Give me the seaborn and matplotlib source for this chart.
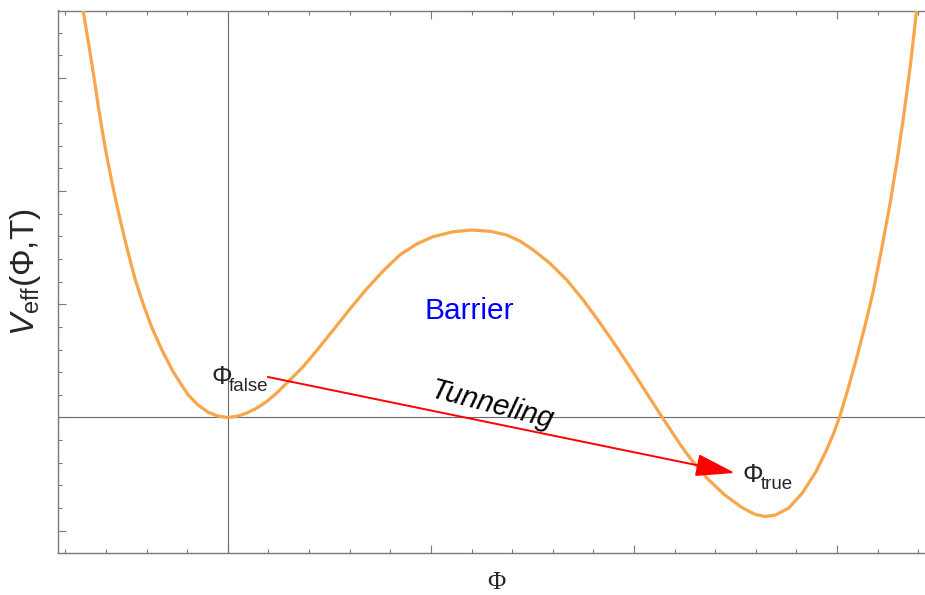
import matplotlib
matplotlib.use("Agg")
import matplotlib.pyplot as plt
from matplotlib.ticker import MultipleLocator, NullFormatter
import seaborn as sns

# Effective potential V_eff(Φ, T) sampled along Φ
phi = [-0.74, -0.7128, -0.6847, -0.6586, -0.634, -0.6059, -0.5847, -0.5616,
       -0.5369, -0.5108, -0.4828, -0.4532, -0.4172, -0.3759, -0.3266, -0.2695,
       -0.233, -0.1956, -0.1463, -0.097, -0.0478, 0.0, 0.0429, 0.0921, 0.1414,
       0.1906, 0.2399, 0.2892, 0.3709, 0.437, 0.519, 0.601, 0.683, 0.765,
       0.847, 0.930, 1.011, 1.110, 1.200, 1.291, 1.373, 1.438, 1.504, 1.586,
       1.669, 1.750, 1.833, 1.915, 1.997, 2.071, 2.136, 2.230, 2.279, 2.363,
       2.446, 2.529, 2.595, 2.646, 2.696, 2.762, 2.829, 2.896, 2.945, 2.98,
       3.012, 3.054, 3.096, 3.138, 3.179, 3.221, 3.262, 3.296, 3.329, 3.362,
       3.392, 3.42]
veff = [3.89, 3.594, 3.290, 2.996, 2.701, 2.401, 2.201, 1.998,
        1.798, 1.597, 1.398, 1.200, 1.003, 0.802, 0.602, 0.405,
        0.302, 0.199, 0.110, 0.046, 0.012, 0.0, 0.010, 0.038, 0.082,
        0.140, 0.215, 0.302, 0.449, 0.590, 0.773, 0.958, 1.135, 1.295,
        1.436, 1.533, 1.597, 1.641, 1.656, 1.645, 1.612, 1.559, 1.480, 1.362,
        1.215, 1.038, 0.835, 0.622, 0.399, 0.192, 0.010, -0.244, -0.364, -0.542,
        -0.683, -0.792, -0.855, -0.875, -0.862, -0.800, -0.668, -0.480, -0.300, -0.155,
        0.0, 0.25, 0.522, 0.81, 1.120, 1.50, 1.897, 2.27, 2.672, 3.12,
        3.593, 4.0]

# Tunneling path: false vacuum -> true vacuum
tunnel_start = [0.197, 0.358]
tunnel_end = [2.497, -0.490]

sns.set_style("ticks")
plt.rcParams["font.family"] = ["Liberation Sans", "DejaVu Sans"]
plt.rcParams["mathtext.fontset"] = "custom"
plt.rcParams["mathtext.rm"] = "Liberation Sans"
plt.rcParams["mathtext.it"] = "Liberation Sans:italic"
plt.rcParams["mathtext.bf"] = "Liberation Sans:bold"

fig = plt.figure(figsize=(9.25, 5.95), dpi=100)
ax = fig.add_axes([57.5 / 925, 42.5 / 595, 872.5 / 925, 542 / 595])

frame_col = "#7a7a7a"
axis_col = "#6a6a6a"

ax.axhline(0, color=axis_col, lw=0.8, zorder=1)
ax.axvline(0, color=axis_col, lw=0.8, zorder=1)

sns.lineplot(x=phi, y=veff, ax=ax, color="#F9A54B", linewidth=2.3,
             sort=False, estimator=None, zorder=3)
ax.lines[-1].set_solid_joinstyle("round")

ax.set_xlim(-0.839, 3.458)
ax.set_ylim(-1.1926, 3.595)

ax.xaxis.set_major_locator(MultipleLocator(1))
ax.xaxis.set_minor_locator(MultipleLocator(0.2))
ax.yaxis.set_major_locator(MultipleLocator(1))
ax.yaxis.set_minor_locator(MultipleLocator(0.2))
for a in (ax.xaxis, ax.yaxis):
    a.set_major_formatter(NullFormatter())
    a.set_minor_formatter(NullFormatter())

ax.tick_params(which="both", direction="in", top=True, right=False,
               color=frame_col, width=0.8)
ax.tick_params(which="major", length=5.8)
ax.tick_params(which="minor", length=3.2)
for s in ax.spines.values():
    s.set_color(frame_col)
    s.set_linewidth(1.0)

# Axis labels
ax.set_xlabel("Φ", fontsize=18, family=["Liberation Serif", "DejaVu Serif"],
              va="baseline", ha="center")
ax.xaxis.set_label_coords(0.503, -0.0675)
ax.set_ylabel(r"$V_{\mathrm{eff}}$(Φ,T)", fontsize=24, va="center", ha="center")
ax.yaxis.set_label_coords(-0.037, 0.5165)

# Annotations
ax.annotate("", xy=tunnel_end, xytext=tunnel_start,
            arrowprops=dict(arrowstyle="-|>,head_length=2.45,head_width=0.7",
                            color="red", lw=1.4, shrinkA=0, shrinkB=0),
            zorder=5)

ax.text(1.191, 0.867, "Barrier", color="blue", fontsize=21.5,
        ha="center", va="baseline")
ax.text(1.299, 0.106, "Tunneling", color="black", fontsize=21, style="italic",
        ha="center", va="center", rotation=-14.5)

ax.text(-0.082, 0.296, "Φ", fontsize=18.5, ha="left", va="baseline")
ax.text(0.005, 0.234, "false", fontsize=13.5, ha="left", va="baseline")
ax.text(2.533, -0.570, "Φ", fontsize=18.5, ha="left", va="baseline")
ax.text(2.626, -0.636, "true", fontsize=13.5, ha="left", va="baseline")

fig.savefig("out.png", dpi=100)
